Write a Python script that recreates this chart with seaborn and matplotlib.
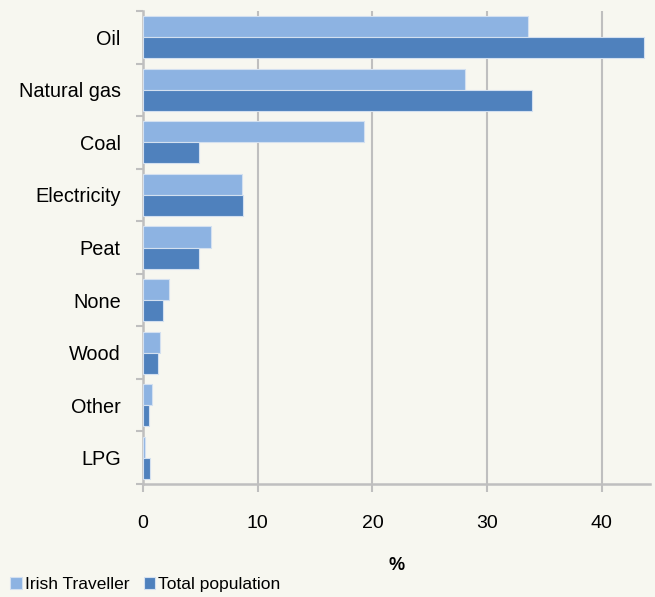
import pandas as pd
import numpy as np
import matplotlib.pyplot as plt
import seaborn as sns

fuels = ['Oil', 'Natural gas', 'Coal', 'Electricity', 'Peat', 'None', 'Wood', 'Other', 'LPG']
irish_traveller = [33.6, 28.1, 19.3, 8.6, 5.9, 2.3, 1.45, 0.75, 0.2]
total_population = [43.7, 33.9, 4.9, 8.7, 4.9, 1.7, 1.35, 0.55, 0.65]
groups = ['Irish Traveller', 'Total population']
x_ticks = [0, 10, 20, 30, 40]

df = pd.DataFrame({
    'fuel': fuels * 2,
    'pct': irish_traveller + total_population,
    'group': [groups[0]] * len(fuels) + [groups[1]] * len(fuels),
})

sns.set_style('white')
plt.rcParams['font.family'] = ['Liberation Sans', 'DejaVu Sans']
plt.rcParams['text.color'] = 'black'
plt.rcParams['xtick.labelcolor'] = 'black'
plt.rcParams['ytick.labelcolor'] = 'black'
plt.rcParams['axes.labelcolor'] = 'black'
bg = '#F7F7F0'
grid_c = '#BFBFBF'

fig = plt.figure(figsize=(6.55, 5.97), dpi=100, facecolor=bg)
ax = fig.add_axes([143 / 655, 1 - 484 / 597, 507 / 655, 473 / 597])
ax.set_facecolor(bg)

sns.barplot(data=df, y='fuel', x='pct', hue='group', order=fuels, hue_order=groups,
            palette=['#8DB3E2', '#4F81BD'], saturation=1, orient='h', width=0.8,
            edgecolor='#D3E0F0', linewidth=0.8, ax=ax, legend=True, zorder=3)

ax.set_xlim(0, 44.2)
ax.set_ylim(len(fuels) - 0.5, -0.5)
ax.set_xticks(x_ticks)
ax.xaxis.grid(True, color=grid_c, linewidth=1.5, zorder=0)
ax.set_axisbelow(True)

for s in ['top', 'right']:
    ax.spines[s].set_visible(False)
for s in ['left', 'bottom']:
    ax.spines[s].set_color(grid_c)
    ax.spines[s].set_linewidth(1.8)

ax.set_yticks(np.arange(len(fuels) + 1) - 0.5, minor=True)
ax.tick_params(axis='y', which='major', length=0, pad=16, labelsize=14.3)
ax.tick_params(axis='y', which='minor', left=True, length=5, width=1.5, color=grid_c)
ax.tick_params(axis='x', bottom=True, length=6, width=1.5, color=grid_c, pad=16, labelsize=14)

ax.set_ylabel('')
ax.set_xlabel('%', fontsize=13, fontweight='bold', labelpad=18)

handles, labels = ax.get_legend_handles_labels()
ax.get_legend().remove()
fig.legend(handles, labels, loc='lower left', bbox_to_anchor=(-0.008, -0.018), ncol=2,
           frameon=False, fontsize=12.5, handlelength=0.65, handleheight=0.65,
           handletextpad=0.2, columnspacing=0.8)

fig.savefig('out.png', dpi=100, facecolor=bg)
